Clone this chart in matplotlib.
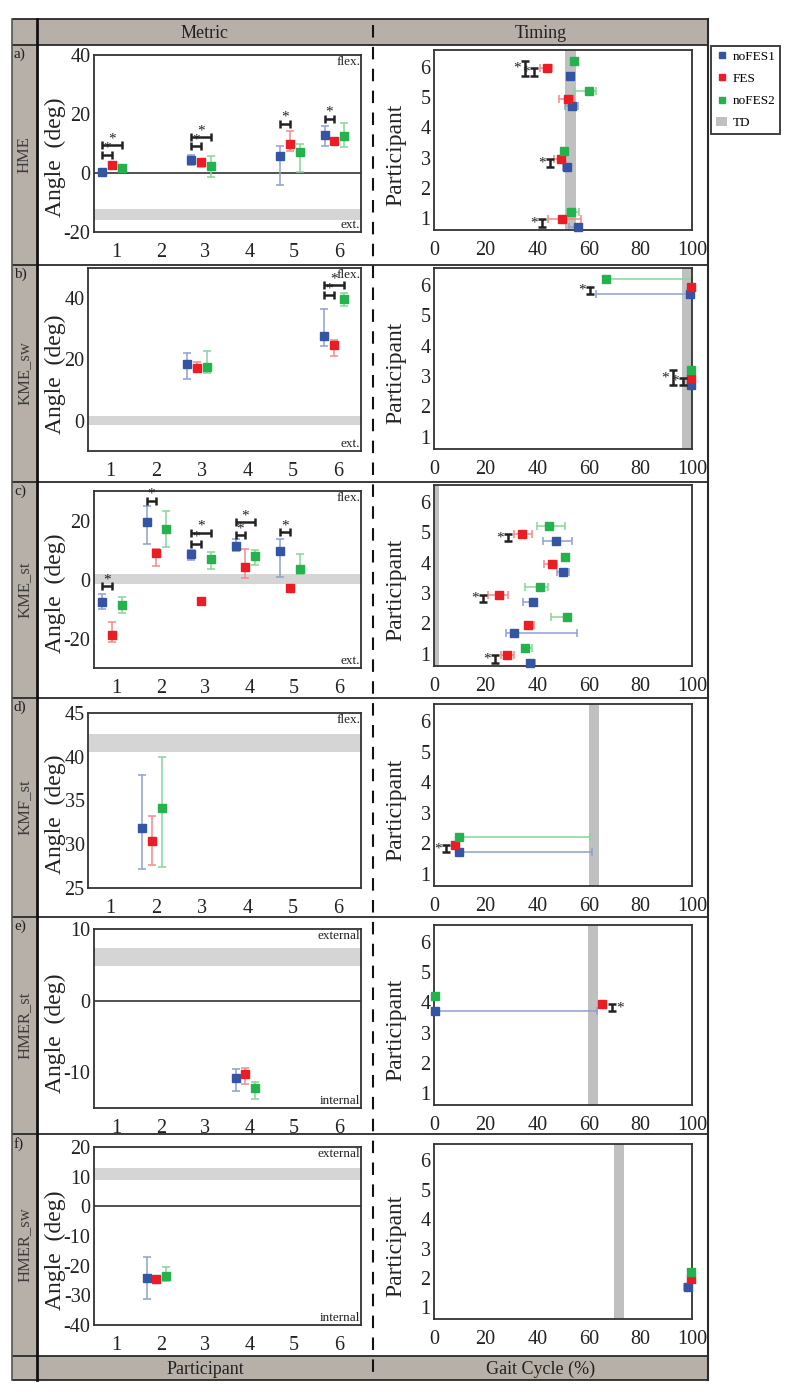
import numpy as np
import matplotlib
matplotlib.use("Agg")
import matplotlib.pyplot as plt
import matplotlib.transforms as mtransforms
from matplotlib.lines import Line2D
from matplotlib.patches import Patch, Rectangle

plt.rcParams['font.family'] = ['Liberation Serif', 'DejaVu Serif']
plt.rcParams['axes.unicode_minus'] = False

# ---------------- data ----------------
series_names = ["noFES1", "FES", "noFES2"]
metric_names = ["HME", "KME_sw", "KME_st", "KMF_st", "HMER_st", "HMER_sw"]
row_letters = ["a)", "b)", "c)", "d)", "e)", "f)"]
participant_ticks = [1, 2, 3, 4, 5, 6]
gait_ticks = [0, 20, 40, 60, 80, 100]

# a) HME
hme_parts = [1, 3, 5, 6]
hme_val = [[0.4, 4.4, 5.6, 13.0], [2.6, 3.7, 9.8, 11.0], [1.6, 2.5, 7.2, 12.5]]
hme_lo = [[-0.3, 2.6, -4.2, 9.0], [1.9, 1.9, 7.6, 10.6], [1.0, -1.2, 0.5, 8.8]]
hme_hi = [[1.1, 6.2, 9.0, 16.0], [3.3, 4.7, 14.3, 11.4], [2.2, 5.6, 9.8, 17.0]]
hme_band = (-15.8, -12.1)
hme_sig = [(1, 1, 6.2), (1, 2, 9.4), (3, 1, 9.0), (3, 2, 12.1), (5, 1, 16.6), (6, 1, 18.4)]
hme_t_val = [[55.9, 51.4, 53.5, 52.7], [49.5, 49.1, 52.1, 43.7], [53.0, 50.5, 60.1, 54.1]]
hme_t_lo = [[52.3, 49.9, 50.9, 52.7], [44.3, 46.5, 48.6, 41.1], [51.4, 50.5, 54.1, 54.1]]
hme_t_hi = [[57.2, 52.7, 55.9, 52.7], [57.0, 50.5, 54.4, 45.9], [56.2, 50.5, 62.7, 54.1]]
hme_td = (50.8, 54.9)
hme_t_sig = [(6, 2, 35.3, -1), (6, 1, 38.8, -1), (3, 1, 45.0, -1), (1, 1, 42.0, -1)]

# b) KME_sw
kmesw_parts = [3, 6]
kmesw_val = [[18.4, 27.7], [17.3, 24.6], [17.6, 39.7]]
kmesw_lo = [[13.6, 24.4], [16.2, 21.2], [15.5, 37.6]]
kmesw_hi = [[22.0, 36.5], [19.1, 26.4], [22.8, 41.9]]
kmesw_band = (-1.5, 1.5)
kmesw_sig = [(6, 1, 41.1), (6, 2, 44.4)]
kmesw_t_val = [[99.6, 99.2], [99.6, 99.6], [99.6, 66.7]]
kmesw_t_lo = [[99.6, 62.7], [99.6, 99.6], [99.6, 66.7]]
kmesw_t_hi = [[99.6, 99.2], [99.6, 99.6], [99.6, 100.0]]
kmesw_td = (96.3, 100.0)
kmesw_t_sig = [(6, 1, 60.5, -1), (3, 2, 92.5, -1), (3, 1, 96.4, -1)]

# c) KME_st
kmest_parts = [1, 2, 3, 4, 5]
kmest_val = [[-7.7, 19.5, 8.6, 11.5, 9.6], [-18.7, 8.9, -7.4, 4.1, -2.9], [-8.8, 17.0, 7.1, 8.1, 3.7]]
kmest_lo = [[-10.0, 12.0, 6.7, 9.8, 0.7], [-21.2, 4.7, -7.4, 0.5, -2.9], [-11.4, 11.0, 3.6, 4.8, 1.9]]
kmest_hi = [[-4.9, 24.8, 10.1, 13.7, 13.8], [-14.4, 10.4, -7.4, 10.4, -2.9], [-6.0, 23.1, 9.3, 10.0, 8.6]]
kmest_band = (-1.5, 2.0)
kmest_sig = [(1, 1, -2.3), (2, 1, 26.7), (3, 1, 12.1), (3, 2, 15.8), (4, 1, 15.0), (4, 2, 19.4), (5, 1, 16.0)]
kmest_t_val = [[37.2, 31.0, 38.2, 50.1, 47.2], [28.2, 36.6, 25.2, 45.6, 34.0], [35.3, 51.7, 41.1, 50.9, 44.6]]
kmest_t_lo = [[35.9, 27.8, 34.4, 47.5, 42.1], [25.8, 35.3, 21.1, 42.8, 31.1], [34.2, 45.2, 35.3, 50.9, 39.8]]
kmest_t_hi = [[39.1, 55.5, 40.0, 52.4, 53.4], [31.1, 38.8, 28.8, 47.8, 38.1], [37.9, 53.0, 44.3, 50.9, 50.8]]
kmest_td = (0.0, 2.0)
kmest_t_sig = [(5, 1, 28.8, -1), (3, 1, 19.1, -1), (1, 1, 23.6, -1)]

# d) KMF_st
kmfst_parts = [2]
kmfst_val = [[31.9], [30.4], [34.1]]
kmfst_lo = [[27.2], [27.6], [27.4]]
kmfst_hi = [[37.9], [33.2], [40.0]]
kmfst_band = (40.5, 42.6)
kmfst_sig = []
kmfst_t_val = [[9.7], [8.1], [9.8]]
kmfst_t_lo = [[9.7], [8.1], [9.8]]
kmfst_t_hi = [[61.4], [8.1], [60.5]]
kmfst_td = (60.2, 64.0)
kmfst_t_sig = [(2, 1, 4.6, -1)]

# e) HMER_st
hmerst_parts = [4]
hmerst_val = [[-10.8], [-10.3], [-12.2]]
hmerst_lo = [[-12.6], [-11.7], [-13.7]]
hmerst_hi = [[-9.6], [-9.4], [-11.4]]
hmerst_band = (4.8, 7.3)
hmerst_sig = []
hmerst_t_val = [[0.4], [65.0], [0.2]]
hmerst_t_lo = [[0.4], [63.8], [0.2]]
hmerst_t_hi = [[63.0], [66.5], [0.2]]
hmerst_td = (59.6, 63.4)
hmerst_t_sig = [(4, 1, 68.9, 1)]

# f) HMER_sw
hmersw_parts = [2]
hmersw_val = [[-24.2], [-24.5], [-23.4]]
hmersw_lo = [[-31.2], [-24.5], [-25.3]]
hmersw_hi = [[-17.2], [-24.5], [-20.6]]
hmersw_band = (9.0, 13.0)
hmersw_sig = []
hmersw_t_val = [[98.3], [99.6], [99.6]]
hmersw_t_lo = [[97.0], [99.6], [99.6]]
hmersw_t_hi = [[99.6], [99.6], [99.6]]
hmersw_td = (69.9, 73.8)
hmersw_t_sig = []

metric_ylims = [(-20, 40), (-10, 50), (-30, 30), (25, 45), (-15, 10), (-40, 20)]
metric_yticks = [[-20, 0, 20, 40], [0, 20, 40], [-20, 0, 20], [25, 30, 35, 40, 45],
                 [-10, 0, 10], [-40, -30, -20, -10, 0, 10, 20]]
metric_zero = [True, False, False, False, True, True]
metric_dir = [("flex.", "ext."), ("flex.", "ext."), ("flex.", "ext."), ("flex.", None),
              ("external", "internal"), ("external", "internal")]

rows = [
    (hme_parts, hme_val, hme_lo, hme_hi, hme_band, hme_sig, hme_t_val, hme_t_lo, hme_t_hi, hme_td, hme_t_sig),
    (kmesw_parts, kmesw_val, kmesw_lo, kmesw_hi, kmesw_band, kmesw_sig, kmesw_t_val, kmesw_t_lo, kmesw_t_hi, kmesw_td, kmesw_t_sig),
    (kmest_parts, kmest_val, kmest_lo, kmest_hi, kmest_band, kmest_sig, kmest_t_val, kmest_t_lo, kmest_t_hi, kmest_td, kmest_t_sig),
    (kmfst_parts, kmfst_val, kmfst_lo, kmfst_hi, kmfst_band, kmfst_sig, kmfst_t_val, kmfst_t_lo, kmfst_t_hi, kmfst_td, kmfst_t_sig),
    (hmerst_parts, hmerst_val, hmerst_lo, hmerst_hi, hmerst_band, hmerst_sig, hmerst_t_val, hmerst_t_lo, hmerst_t_hi, hmerst_td, hmerst_t_sig),
    (hmersw_parts, hmersw_val, hmersw_lo, hmersw_hi, hmersw_band, hmersw_sig, hmersw_t_val, hmersw_t_lo, hmersw_t_hi, hmersw_td, hmersw_t_sig),
]

# ---------------- style / layout ----------------
colors = ['#3454a4', '#ec1c24', '#23b24b']
ecolors = ['#8e9fd3', '#f4898c', '#88d59c']
band_color = '#d5d5d5'
td_color = '#c0c0c0'
table_gray = '#b7b0a8'
metric_off = [-0.32, -0.10, 0.12]
timing_off = [-0.30, -0.05, 0.20]

W, H = 788, 1394
fig = plt.figure(figsize=(W / 100, H / 100), dpi=100)

metric_boxes = [(94, 55, 361, 232), (88, 268, 361, 451), (94, 491, 361, 668),
                (88, 713, 361, 888), (94, 929, 361, 1108), (94, 1147, 361, 1325)]
timing_boxes = [(434, 50, 692, 230), (434, 268, 692, 449), (434, 485, 692, 666),
                (434, 704, 692, 886), (434, 925, 692, 1105), (434, 1144, 692, 1319)]
row_edges = [45, 265, 482, 698, 917, 1134, 1356]
T_TOP, T_BOT, T_L, T_C, T_MID, T_R = 19, 1380, 12, 37, 373, 708

# background table
bg = fig.add_axes([0, 0, 1, 1], zorder=-1)
bg.set_xlim(0, W)
bg.set_ylim(H, 0)
bg.axis('off')
bg.add_patch(Rectangle((T_L, T_TOP), T_R - T_L, row_edges[0] - T_TOP, color=table_gray, lw=0))
bg.add_patch(Rectangle((T_L, row_edges[-1]), T_R - T_L, T_BOT - row_edges[-1], color=table_gray, lw=0))
bg.add_patch(Rectangle((T_L, T_TOP), T_C - T_L, T_BOT - T_TOP, color=table_gray, lw=0))
for yy in [T_TOP] + row_edges + [T_BOT]:
    bg.plot([T_L, T_R], [yy, yy], color='#2a2a2a', lw=1.3, solid_capstyle='butt')
bg.plot([T_L, T_L], [T_TOP, T_BOT], color='#555555', lw=1.2)
bg.plot([T_R, T_R], [T_TOP, T_BOT], color='#2a2a2a', lw=1.5)
bg.plot([T_C, T_C], [T_TOP, T_BOT], color='#111111', lw=2.0)
bg.plot([T_MID, T_MID], [T_TOP + 6, T_BOT], color='#111111', lw=1.5, ls=(0, (6, 4.5)))
bg.text((T_C + T_MID) / 2, (T_TOP + row_edges[0]) / 2 + 1, "Metric", ha='center', va='center', fontsize=13, color='#222')
bg.text((T_MID + T_R) / 2, (T_TOP + row_edges[0]) / 2 + 1, "Timing", ha='center', va='center', fontsize=13, color='#222')
bg.text((T_C + T_MID) / 2, (row_edges[-1] + T_BOT) / 2 + 1, "Participant", ha='center', va='center', fontsize=13, color='#222')
bg.text((T_MID + T_R) / 2, (row_edges[-1] + T_BOT) / 2 + 1, "Gait Cycle (%)", ha='center', va='center', fontsize=13, color='#222')
for i in range(6):
    bg.text(T_L + 2, row_edges[i] + 3, row_letters[i], ha='left', va='top', fontsize=11, color='#222')
    bg.text((T_L + T_C) / 2 + 0.5, (row_edges[i] + row_edges[i + 1]) / 2, metric_names[i],
            rotation=90, ha='center', va='center', fontsize=12, color='#3c3c3c')


def px_axes(box):
    l, t, r, b = box
    return fig.add_axes([l / W, 1 - b / H, (r - l) / W, (b - t) / H])


def style(ax):
    for s in ax.spines.values():
        s.set_color('#333333')
        s.set_linewidth(1.3)
    ax.tick_params(axis='both', length=0, labelsize=14.5, colors='#222')
    ax.tick_params(axis='x', pad=8)
    ax.tick_params(axis='y', pad=2.5)


for i, (parts, val, lo, hi, band, sig, tval, tlo, thi, td, tsig) in enumerate(rows):
    # ---- metric panel ----
    ax = px_axes(metric_boxes[i])
    style(ax)
    ax.set_xlim(0.5, 6.5)
    ax.set_ylim(*metric_ylims[i])
    ax.set_xticks(participant_ticks)
    ax.set_yticks(metric_yticks[i])
    ax.axhspan(band[0], band[1], color=band_color, lw=0, zorder=0)
    if metric_zero[i]:
        ax.axhline(0, color='#222', lw=1.1, zorder=1)
    p = np.array(parts, dtype=float)
    for s in range(3):
        x = p + metric_off[s]
        m = np.array(val[s]); l_ = np.array(lo[s]); h_ = np.array(hi[s])
        ax.errorbar(x, m, yerr=[m - l_, h_ - m], fmt='none', ecolor=ecolors[s],
                    elinewidth=1.1, capsize=2.8, capthick=1.1, zorder=2)
        ax.plot(x, m, 's', color=colors[s], ms=5.5, zorder=3)
    for (pp, to, yb) in sig:
        x0 = pp + metric_off[0]
        x1 = pp + metric_off[to]
        ax.errorbar((x0 + x1) / 2, yb, xerr=(x1 - x0) / 2, fmt='none', ecolor='#222',
                    elinewidth=1.8, capsize=3, capthick=1.8, zorder=4)
        ax.text((x0 + x1) / 2, yb, '*', ha='center', va='bottom', fontsize=11, color='#222', zorder=4)
    top_lab, bot_lab = metric_dir[i]
    if top_lab:
        ax.text(0.997, 0.995, top_lab, transform=ax.transAxes, ha='right', va='top', fontsize=9.5, color='#222')
    if bot_lab:
        ax.text(0.997, 0.005, bot_lab, transform=ax.transAxes, ha='right', va='bottom', fontsize=9.5, color='#222')
    ax.set_ylabel("Angle  (deg)", fontsize=17, color='#222')
    ax.yaxis.set_label_coords(66 / W, 0.42,
                              transform=mtransforms.blended_transform_factory(fig.transFigure, ax.transAxes))

    # ---- timing panel ----
    tx = px_axes(timing_boxes[i])
    style(tx)
    tx.set_xlim(0, 100)
    tx.set_ylim(0.6, 6.56)
    tx.set_xticks(gait_ticks)
    tx.set_yticks(participant_ticks)
    tx.axvspan(td[0], td[1], color=td_color, lw=0, zorder=0)
    for s in range(3):
        y = p + timing_off[s]
        m = np.array(tval[s]); l_ = np.array(tlo[s]); h_ = np.array(thi[s])
        tx.errorbar(m, y, xerr=[m - l_, h_ - m], fmt='none', ecolor=ecolors[s],
                    elinewidth=1.1, capsize=2.8, capthick=1.1, zorder=2, clip_on=False)
        tx.plot(m, y, 's', color=colors[s], ms=5.5, zorder=3, clip_on=False)
    for (pp, to, xb, side) in tsig:
        y0 = pp + timing_off[0]
        y1 = pp + timing_off[to]
        tx.errorbar(xb, (y0 + y1) / 2, yerr=(y1 - y0) / 2, fmt='none', ecolor='#222',
                    elinewidth=1.8, capsize=2.8, capthick=1.8, zorder=4)
        tx.text(xb + side * 1.6, (y0 + y1) / 2, '*', ha='left' if side > 0 else 'right',
                va='center', fontsize=11, color='#222', zorder=4)
    tx.set_ylabel("Participant", fontsize=17, color='#222')
    tx.yaxis.set_label_coords(406 / W, 0.42,
                              transform=mtransforms.blended_transform_factory(fig.transFigure, tx.transAxes))

# legend
handles = [Line2D([], [], marker='s', color=colors[s], ls='none', ms=4.5) for s in range(3)]
handles.append(Patch(facecolor=td_color, edgecolor='none'))
leg = fig.legend(handles, series_names + ["TD"], loc='upper left',
                 bbox_to_anchor=(711 / W, 1 - 46 / H), fontsize=9.5, frameon=True,
                 fancybox=False, handlelength=0.9, handletextpad=0.4, borderpad=0.35,
                 labelspacing=0.75, borderaxespad=0)
leg.get_frame().set_edgecolor('#111')
leg.get_frame().set_linewidth(1.4)

fig.savefig("out.png", dpi=100)
